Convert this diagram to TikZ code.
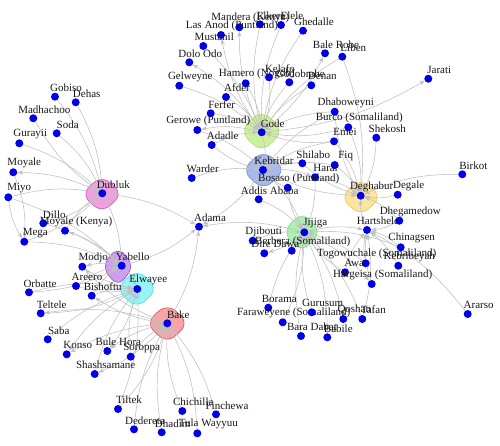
\documentclass[tikz,border=0pt]{standalone}
\usepackage{fontspec}
\setmainfont{Liberation Serif}
\usetikzlibrary{arrows.meta}
\pgfdeclarelayer{backdrop}
\pgfdeclarelayer{blobs}
\pgfdeclarelayer{edges}
\pgfsetlayers{backdrop,blobs,edges,main}
\definecolor{dotblue}{RGB}{0,0,230}
\definecolor{edgegray}{RGB}{192,192,192}
\definecolor{godeF}{RGB}{205,240,160}\definecolor{godeD}{RGB}{175,225,110}
\definecolor{kebF}{RGB}{165,185,235}\definecolor{kebD}{RGB}{120,145,215}
\definecolor{degF}{RGB}{255,228,160}\definecolor{degD}{RGB}{240,200,100}
\definecolor{jijF}{RGB}{175,240,180}\definecolor{jijD}{RGB}{130,225,140}
\definecolor{dubF}{RGB}{240,160,225}\definecolor{dubD}{RGB}{215,90,200}
\definecolor{yabF}{RGB}{205,160,235}\definecolor{yabD}{RGB}{150,90,205}
\definecolor{elwF}{RGB}{150,245,245}\definecolor{elwD}{RGB}{90,220,235}
\definecolor{bakF}{RGB}{245,165,165}\definecolor{bakD}{RGB}{215,90,100}
\tikzset{
 town/.style={circle,fill=dotblue,inner sep=0pt,minimum size=8pt},
 lbl/.style={inner sep=0pt,font=\fontsize{11}{11}\selectfont,text=black!90},
 ed/.style={draw=edgegray,line width=0.55pt,-{Stealth[length=5.5pt,width=4.2pt]},bend left=12},
 edr/.style={draw=edgegray,line width=0.55pt,-{Stealth[length=5.5pt,width=4.2pt]},bend right=12},
 blobst/.style 2 args={fill=#1,draw=#2,line width=0.7pt},
}
\newcommand\town[4]{\node[town] (#1) at (#2,#3) {}; \node[lbl] (#1l) at ([shift={(11,-9)}]#1.center) {#4};}
\newcommand\myblob[6]{\path[blobst={#5}{#6}] plot[smooth cycle,tension=0.8] coordinates {
 ([shift={(0:{#3*1.0} and {#4*1.0})}]#1,#2)
 ([shift={(45:{#3*0.93} and {#4*0.92})}]#1,#2)
 ([shift={(90:{#3*1.04} and {#4*1.05})}]#1,#2)
 ([shift={(135:{#3*0.95} and {#4*0.94})}]#1,#2)
 ([shift={(180:{#3*1.0} and {#4*1.0})}]#1,#2)
 ([shift={(225:{#3*0.92} and {#4*0.95})}]#1,#2)
 ([shift={(270:{#3*1.05} and {#4*1.03})}]#1,#2)
 ([shift={(315:{#3*0.94} and {#4*0.93})}]#1,#2)};}
\begin{document}
\begin{tikzpicture}[x=1pt,y=-1pt]
\useasboundingbox (0,0) rectangle (500,445);
\begin{pgfonlayer}{backdrop}
\fill[white] (0,0) rectangle (500,445);
\end{pgfonlayer}
% hubs
\town{gode}{261.7}{132.3}{Gode}
\town{kebridar}{263}{170}{Kebridar}
\town{deghabur}{360.7}{195.7}{Deghabur}
\town{jijiga}{304.3}{232.3}{Jijiga}
\town{dubluk}{102.3}{193.3}{Dubluk}
\town{yabello}{121.7}{265.7}{Yabello}
\town{elwayee}{137.3}{289}{Elwayee}
\town{bake}{167.3}{323.3}{Bake}
% top
\town{mandera}{239.3}{27.3}{Mandera (Kenya)}
\town{elkere}{260}{24.3}{Elkere}
\town{elele}{281}{25}{Elele}
\town{ghedalle}{303}{30.7}{Ghedalle}
\town{lasanod}{221}{35}{Las Anod (Puntland)}
\town{mustahil}{203.3}{46}{Mustahil}
\town{dolo}{189.3}{62.3}{Dolo Odo}
\town{gelweyne}{179.3}{85.7}{Gelweyne}
\town{hamero}{245.7}{83.3}{Hamero (Nogob)}
\town{kelafo}{269}{77.3}{Kelafo}
\town{godob}{289.3}{82.3}{Godobrahe}
\town{denan}{311.3}{85.3}{Denan}
\town{balerobe}{325}{53.3}{Bale Robe}
\town{liben}{342.3}{56.7}{Liben}
\town{afder}{226}{97}{Afder}
\town{ferfer}{210.7}{113.3}{Ferfer}
\town{gerowe}{197.3}{130}{Gerowe (Puntland)}
\town{adadle}{211.7}{145}{Adadle}
\town{warder}{191.7}{178}{Warder}
\town{dhabo}{334.7}{111.7}{Dhaboweyni}
\town{burco}{348.3}{127.3}{Burco (Somaliland)}
\town{emei}{334}{141.3}{Emei}
\town{shekosh}{376.3}{137.7}{Shekosh}
\town{jarati}{428.3}{78.7}{Jarati}
\town{shilabo}{302.3}{163.3}{Shilabo}
\town{fiq}{334.7}{165}{Fiq}
\town{harar}{315}{177.3}{Harar}
\town{bosaso}{287.7}{187.7}{Bosaso (Puntland)}
\town{addis}{258.7}{199.3}{Addis Ababa}
\town{birkot}{462.3}{174.3}{Birkot}
\town{degale}{397.7}{194.7}{Degale}
\town{dhegam}{399.3}{220.7}{Dhegamedow}
\town{hartshele}{367}{230}{Hartshele}
\town{djibouti}{252.7}{240.7}{Djibouti}
\town{diredawa}{264.3}{253.3}{Dire Dawa}
\town{berbera}{291.7}{250.7}{Berbera (Somaliland)}
\town{chinagsen}{400.7}{247.3}{Chinagsen}
\town{kebribeyah}{398.3}{265.7}{Kebribeyah}
\town{togow}{365.7}{263.3}{Togowuchale (Somaliland)}
\town{awar}{345}{272.3}{Awar}
\town{hargeisa}{371.7}{284}{Hargeisa (Somaliland)}
\town{borama}{268.3}{307.7}{Borama}
\town{farawey}{282.7}{322.3}{Faraweyene (Somaliland)}
\town{gurusum}{311.7}{312.3}{Gurusum}
\town{qoshan}{343.3}{319}{Qoshan}
\town{tafan}{362.3}{319}{Tafan}
\town{baradabat}{301}{336}{Bara Dabat}
\town{babile}{327.3}{337.3}{Babile}
\town{ararso}{467.7}{314}{Ararso}
\town{adama}{199}{226.7}{Adama}
% left
\town{gobiso}{55}{96.7}{Gobiso}
\town{dehas}{75.7}{102.3}{Dehas}
\town{madhachoo}{33.3}{118.3}{Madhachoo}
\town{soda}{56.7}{133.3}{Soda}
\town{gurayii}{19.3}{143.3}{Gurayii}
\town{moyale}{13.3}{172.3}{Moyale}
\town{miyo}{8.3}{197.3}{Miyo}
\town{dillo}{43.3}{223.3}{Dillo}
\town{moyalek}{65}{230.7}{Moyale (Kenya)}
\town{mega}{24.3}{241.7}{Mega}
\town{modjo}{82.3}{266.7}{Modjo}
\town{areero}{76}{286}{Areero}
\town{orbatte}{29}{292.3}{Orbatte}
\town{bishoftu}{91.7}{295.7}{Bishoftu}
\town{teltele}{40.7}{313.3}{Teltele}
\town{saba}{47.7}{339.3}{Saba}
\town{konso}{66.7}{354.3}{Konso}
\town{bulehora}{107.3}{351}{Bule Hora}
\town{soroppa}{130.7}{356.7}{Soroppa}
\town{shash}{94.7}{374}{Shashsamane}
\town{tiltek}{118}{409}{Tiltek}
\town{chichilla}{182.3}{411}{Chichilla}
\town{finchewa}{216}{414.3}{Finchewa}
\town{dedereta}{134}{429.3}{Dedereta}
\town{dhadim}{161.7}{432.3}{Dhadim}
\town{tula}{197.3}{433.3}{Tula Wayyuu}

\begin{pgfonlayer}{blobs}
\myblob{261.7}{131}{17}{16}{godeF}{godeD}
\myblob{263.7}{170}{17}{15}{kebF}{kebD}
\myblob{361}{197}{16}{14}{degF}{degD}
\myblob{302}{232}{15}{15}{jijF}{jijD}
\myblob{102}{194}{16}{14}{dubF}{dubD}
\myblob{118}{266.5}{12.5}{15}{yabF}{yabD}
\myblob{137}{288.7}{16.3}{14.7}{elwF}{elwD}
\myblob{167.3}{323.3}{16.7}{15}{bakF}{bakD}
\end{pgfonlayer}

\begin{pgfonlayer}{edges}
% Gode
\draw[ed] (gode) to (mandera);
\draw[ed] (gode) to (lasanod);
\draw[edr] (elkere) to (gode);
\draw[edr] (elele) to (gode);
\draw[edr] (ghedalle) to (gode);
\draw[ed] (mustahil) to (gode);
\draw[edr] (gode) to (dolo);
\draw[ed] (gelweyne) to (gode);
\draw[ed] (hamero) to (gode);
\draw[ed] (kelafo) to (gode);
\draw[edr] (godob) to (gode);
\draw[edr] (denan) to (gode);
\draw[edr] (gode) to (balerobe);
\draw[ed] (afder) to (gode);
\draw[ed] (ferfer) to (gode);
\draw[edr] (gode) to (gerowe);
\draw[ed] (adadle) to (gode);
\draw[edr] (gode) to (jarati);
\draw[edr] (dhabo) to (gode);
\draw[ed] (burco) to (gode);
\draw[ed] (emei) to (gode);
\draw[ed] (gode) to (kebridar);
% Kebridar
\draw[ed] (warder) to (kebridar);
\draw[edr] (adadle) to (kebridar);
\draw[ed] (gerowe) to (kebridar);
\draw[edr] (shilabo) to (kebridar);
\draw[ed] (kebridar) to (harar);
\draw[ed] (bosaso) to (kebridar);
\draw[ed] (addis) to (kebridar);
\draw[edr] (fiq) to (kebridar);
\draw[edr] (emei) to (kebridar);
\draw[edr] (dhabo) to (kebridar);
\draw[ed] (kebridar) to (jijiga);
\draw[edr] (kebridar) to (deghabur);
\draw[ed] (kebridar) to (adama);
% Deghabur
\draw[ed] (degale) to (deghabur);
\draw[edr] (birkot) to (deghabur);
\draw[ed] (shekosh) to (deghabur);
\draw[ed] (burco) to (deghabur);
\draw[edr] (dhabo) to (deghabur);
\draw[ed] (emei) to (deghabur);
\draw[ed] (fiq) to (deghabur);
\draw[ed] (liben) to (deghabur);
\draw[edr] (liben) to (gode);
\draw[ed] (hartshele) to (deghabur);
\draw[edr] (dhegam) to (deghabur);
\draw[ed] (harar) to (deghabur);
\draw[edr] (shilabo) to (deghabur);
% Jijiga / Hartshele
\draw[ed] (jijiga) to (hartshele);
\draw[edr] (chinagsen) to (hartshele);
\draw[ed] (togow) to (hartshele);
\draw[ed] (awar) to (hartshele);
\draw[edr] (kebribeyah) to (hartshele);
\draw[ed] (dhegam) to (hartshele);
\draw[edr] (ararso) to (hartshele);
\draw[ed] (jijiga) to (hargeisa);
\draw[edr] (togow) to (jijiga);
\draw[ed] (awar) to (jijiga);
\draw[edr] (chinagsen) to (jijiga);
\draw[ed] (djibouti) to (jijiga);
\draw[ed] (jijiga) to (diredawa);
\draw[edr] (berbera) to (jijiga);
\draw[ed] (borama) to (jijiga);
\draw[edr] (farawey) to (jijiga);
\draw[ed] (gurusum) to (jijiga);
\draw[edr] (qoshan) to (jijiga);
\draw[edr] (tafan) to (jijiga);
\draw[ed] (baradabat) to (jijiga);
\draw[edr] (babile) to (jijiga);
\draw[ed] (harar) to (jijiga);
\draw[edr] (bosaso) to (jijiga);
\draw[ed] (addis) to (jijiga);
\draw[edr] (jijiga) to (adama);
\draw[ed] (hargeisa) to (hartshele);
\draw[edr] (tafan) to (hartshele);
% Dubluk
\draw[ed] (gobiso) to (dubluk);
\draw[ed] (dehas) to (dubluk);
\draw[edr] (madhachoo) to (dubluk);
\draw[ed] (soda) to (dubluk);
\draw[ed] (gurayii) to (dubluk);
\draw[edr] (dubluk) to (moyale);
\draw[ed] (miyo) to (dubluk);
\draw[edr] (dillo) to (dubluk);
\draw[ed] (moyalek) to (dubluk);
\draw[edr] (mega) to (dubluk);
\draw[ed] (dubluk) to (adama);
\draw[edr] (yabello) to (dubluk);
\draw[ed] (moyale) to (mega);
\draw[edr] (miyo) to (mega);
% Yabello
\draw[ed] (miyo) to (yabello);
\draw[edr] (yabello) to (moyalek);
\draw[ed] (dillo) to (yabello);
\draw[ed] (mega) to (yabello);
\draw[edr] (yabello) to (modjo);
\draw[ed] (areero) to (yabello);
\draw[edr] (orbatte) to (yabello);
\draw[ed] (bishoftu) to (yabello);
\draw[ed] (yabello) to (elwayee);
\draw[edr] (yabello) to (adama);
% Elwayee
\draw[ed] (bishoftu) to (elwayee);
\draw[edr] (areero) to (elwayee);
\draw[ed] (orbatte) to (elwayee);
\draw[edr] (teltele) to (elwayee);
\draw[ed] (saba) to (elwayee);
\draw[edr] (elwayee) to (konso);
\draw[ed] (elwayee) to (bulehora);
\draw[edr] (modjo) to (elwayee);
\draw[ed] (soroppa) to (elwayee);
\draw[edr] (tiltek) to (elwayee);
\draw[ed] (shash) to (elwayee);
% Bake
\draw[edr] (bake) to (teltele);
\draw[ed] (bake) to (bishoftu);
\draw[edr] (bake) to (adama);
\draw[ed] (bake) to (shash);
\draw[edr] (bake) to (bulehora);
\draw[ed] (soroppa) to (bake);
\draw[ed] (dedereta) to (bake);
\draw[ed] (dhadim) to (bake);
\draw[edr] (tula) to (bake);
\draw[ed] (chichilla) to (bake);
\draw[edr] (finchewa) to (bake);
\draw[edr] (bake) to (konso);
\draw[ed] (bake) to (modjo);
\draw[edr] (tiltek) to (bake);
\end{pgfonlayer}
\end{tikzpicture}
\end{document}
